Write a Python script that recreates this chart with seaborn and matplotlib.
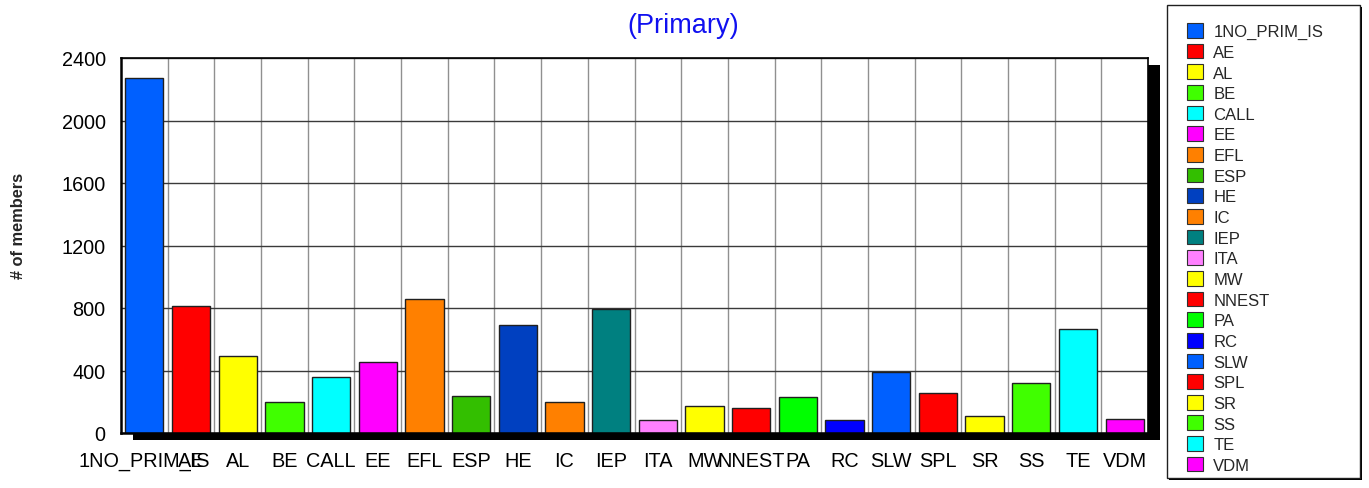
import matplotlib
matplotlib.use("Agg")
import matplotlib.pyplot as plt
from matplotlib.patches import Patch, Rectangle
from matplotlib.ticker import FixedLocator
import seaborn as sns
import pandas as pd

categories = ["1NO_PRIM_IS", "AE", "AL", "BE", "CALL", "EE", "EFL", "ESP", "HE", "IC",
              "IEP", "ITA", "MW", "NNEST", "PA", "RC", "SLW", "SPL", "SR", "SS", "TE", "VDM"]
values = [2270, 810, 490, 198, 358, 455, 860, 240, 690, 196,
          795, 83, 173, 162, 230, 83, 390, 256, 106, 320, 663, 88]
colors = ["#0060FF", "#FF0000", "#FFFF00", "#40FF00", "#00FFFF", "#FF00FF", "#FF8000", "#33BF00",
          "#0040C0", "#FF8000", "#008080", "#FF80FF", "#FFFF00", "#FF0000", "#00FF00", "#0000FF",
          "#0060FF", "#FF0000", "#FFFF00", "#40FF00", "#00FFFF", "#FF00FF"]
yticks = [0, 400, 800, 1200, 1600, 2000, 2400]
title = "(Primary)"
ylabel = "# of members"

sns.set_style("white")
plt.rcParams["font.family"] = ["Liberation Sans", "DejaVu Sans"]

W, H = 1369, 489
fig = plt.figure(figsize=(W / 100, H / 100), dpi=100)
fig.patch.set_facecolor("white")

L, R, T, B = 121, 1148, 59, 434
ax = fig.add_axes([L / W, 1 - B / H, (R - L) / W, (B - T) / H])
ax.set_zorder(1)
ax.set_facecolor("white")

# drop shadow behind the plot area
fig.patches.append(Rectangle(((L + 12) / W, 1 - (B + 7) / H), (R - L) / W, (B - T) / H,
                             transform=fig.transFigure, facecolor="black", edgecolor="none", zorder=0))

df = pd.DataFrame({"cat": categories, "val": values})
sns.barplot(data=df, x="cat", y="val", hue="cat", palette=colors, legend=False,
            width=0.82, edgecolor="#202020", linewidth=1, saturation=1, ax=ax)

ax.set_xlim(-0.5, len(categories) - 0.5)
ax.set_ylim(0, 2400)
ax.set_yticks(yticks)
ax.set_yticklabels([str(v) for v in yticks])
ax.xaxis.set_minor_locator(FixedLocator([i + 0.5 for i in range(len(categories) - 1)]))
ax.set_axisbelow(True)
ax.grid(False)
ax.yaxis.grid(True, which="major", color="#3a3a3a", linewidth=1)
ax.xaxis.grid(True, which="minor", color="#909090", linewidth=1)
ax.tick_params(axis="both", which="both", length=0, labelsize=14.3, colors="black")
ax.tick_params(axis="y", pad=11)
ax.tick_params(axis="x", pad=13)
for s in ax.spines.values():
    s.set_visible(True)
    s.set_color("black")
    s.set_linewidth(1.2)
ax.spines["left"].set_linewidth(1.8)
ax.spines["bottom"].set_linewidth(1.8)
ax.set_xlabel("")
ax.set_ylabel("")

fig.text(683 / W, 1 - 26 / H, title, color="#1010F0", fontsize=19.5, ha="center", va="center")
fig.text(19 / W, 1 - 226 / H, ylabel, fontsize=11.8, fontweight="bold", rotation=90,
         ha="center", va="center")

# legend box with thin shadow
lx0, ly0, lx1, ly1 = 1167, 6, 1360, 479
fig.patches.append(Rectangle(((lx0 + 2) / W, 1 - (ly1 + 2) / H), (lx1 - lx0) / W, (ly1 - ly0) / H,
                             transform=fig.transFigure, facecolor="black", edgecolor="none", zorder=2))
fig.patches.append(Rectangle((lx0 / W, 1 - ly1 / H), (lx1 - lx0) / W, (ly1 - ly0) / H,
                             transform=fig.transFigure, facecolor="white", edgecolor="#202020",
                             linewidth=1, zorder=3))
handles = [Patch(facecolor=c, edgecolor="#303030", linewidth=0.8) for c in colors]
leg = fig.legend(handles, categories, loc="upper left", bbox_to_anchor=(1187 / W, 1 - 24 / H),
                 frameon=False, fontsize=12, handlelength=0.98, handleheight=0.98,
                 handletextpad=0.6, labelspacing=0.275, borderpad=0, borderaxespad=0)
leg.set_zorder(4)

fig.savefig("out.png", dpi=100, facecolor="white")
